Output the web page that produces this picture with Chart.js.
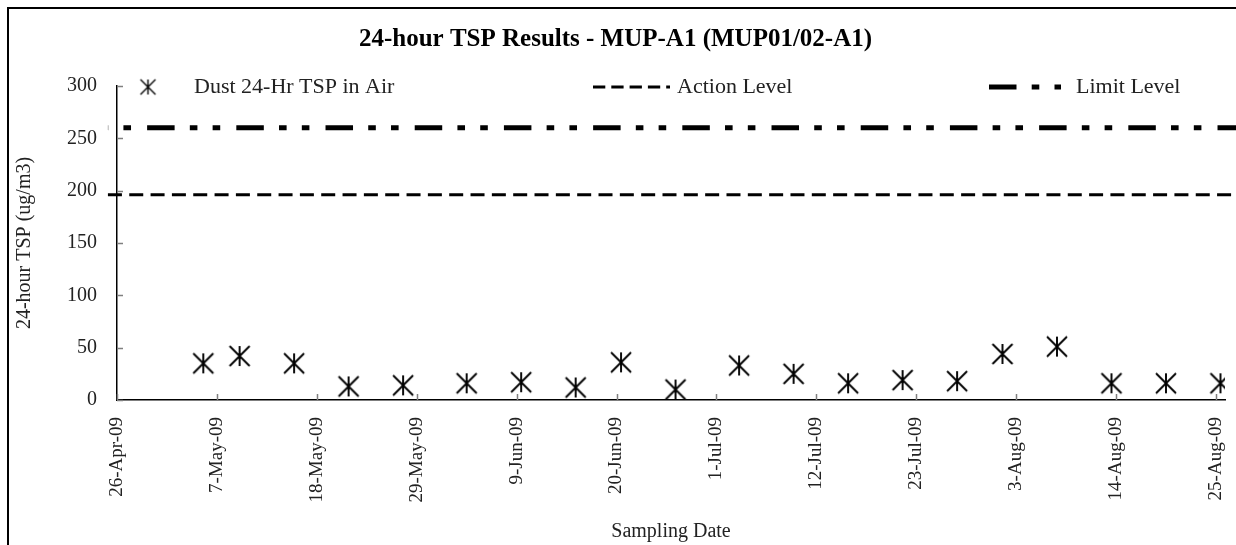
<!DOCTYPE html>
<html>
<head>
<meta charset="utf-8">
<script src="https://cdn.jsdelivr.net/npm/chart.js@4.4.1/dist/chart.umd.min.js"></script>
<style>
  html, body { margin: 0; padding: 0; background: #fff; overflow: hidden; }
  #wrap { position: relative; width: 1236px; height: 545px; }
  #frame { position: absolute; left: 7px; top: 7px; width: 1300px; height: 600px;
           border-left: 2px solid #000; border-top: 2px solid #000; pointer-events: none; }
</style>
</head>
<body>
<div id="wrap">
  <canvas id="chart" width="1236" height="545"></canvas>
  <div id="frame"></div>
</div>
<script>
// 24-hour TSP sampling results
const sampleDates = [
  '2009-05-05', '2009-05-09', '2009-05-15', '2009-05-21', '2009-05-27',
  '2009-06-03', '2009-06-09', '2009-06-15', '2009-06-20', '2009-06-26',
  '2009-07-03', '2009-07-09', '2009-07-15', '2009-07-21', '2009-07-27',
  '2009-08-01', '2009-08-07', '2009-08-13', '2009-08-19', '2009-08-25'
];
const tspValues = [35, 42, 35, 13, 14, 16, 17, 12, 36, 10, 33, 25, 16, 19, 18, 44, 51, 16, 16, 16];

// Action / Limit levels (ug/m3), drawn across the whole period
const levelDates = ['2009-04-25', '2009-08-28'];
const actionLevel = [196, 196];
const limitLevel = [260, 260];

// Axis ticks
const tickDates = [
  '2009-04-26', '2009-05-07', '2009-05-18', '2009-05-29', '2009-06-09', '2009-06-20',
  '2009-07-01', '2009-07-12', '2009-07-23', '2009-08-03', '2009-08-14', '2009-08-25'
];
const xRange = ['2009-04-26', '2009-08-26'];
const yTicks = [0, 50, 100, 150, 200, 250, 300];

const MONTHS = ['Jan','Feb','Mar','Apr','May','Jun','Jul','Aug','Sep','Oct','Nov','Dec'];
function dayNum(s) {
  const [y, m, d] = s.split('-').map(Number);
  return Date.UTC(y, m - 1, d) / 86400000;
}
function fmtDay(n) {
  const dt = new Date(Math.round(n) * 86400000);
  return dt.getUTCDate() + '-' + MONTHS[dt.getUTCMonth()] + '-' + String(dt.getUTCFullYear()).slice(2);
}

// Asterisk marker: an X with a vertical stroke through it
function asterisk(size, lw) {
  const pad = Math.ceil(lw);
  const c = document.createElement('canvas');
  c.width = c.height = size + 2 * pad;
  const g = c.getContext('2d');
  const a = pad, b = pad + size, m = c.width / 2;
  g.strokeStyle = '#000';
  g.lineWidth = lw;
  g.beginPath();
  g.moveTo(a, a); g.lineTo(b, b);
  g.moveTo(b, a); g.lineTo(a, b);
  g.moveTo(m, a); g.lineTo(m, b);
  g.stroke();
  return c;
}
const markerPlot = asterisk(20, 1.9);
const markerLegend = asterisk(15, 1.4);

const FONT = 'Liberation Serif, "Times New Roman", serif';
Chart.defaults.font.family = FONT;
Chart.defaults.color = '#222';

// Legend row drawn inside the plot, along its top edge
const legendRow = {
  y: 87,
  items: [
    { mark: 148, text: 194 },
    { from: 593, to: 670, text: 677 },
    { from: 989, to: 1061, text: 1076 }
  ]
};
const inlineLegend = {
  id: 'inlineLegend',
  afterDraw(chart) {
    const ctx = chart.ctx;
    ctx.save();
    ctx.font = '22px ' + FONT;
    ctx.fillStyle = '#222';
    ctx.textBaseline = 'middle';
    ctx.textAlign = 'left';
    chart.data.datasets.forEach((ds, i) => {
      const it = legendRow.items[i];
      if (it.mark !== undefined) {
        const img = markerLegend;
        ctx.drawImage(img, it.mark - img.width / 2, legendRow.y - img.height / 2);
      } else {
        ctx.save();
        ctx.strokeStyle = ds.borderColor;
        ctx.lineWidth = ds.legendLineWidth;
        ctx.setLineDash(ds.legendDash);
        ctx.lineCap = 'butt';
        ctx.beginPath();
        ctx.moveTo(it.from, legendRow.y);
        ctx.lineTo(it.to, legendRow.y);
        ctx.stroke();
        ctx.restore();
      }
      ctx.fillText(ds.label, it.text, legendRow.y);
    });
    ctx.restore();
  }
};

// Short tick marks pointing into the plot
const innerTicks = {
  id: 'innerTicks',
  beforeDatasetsDraw(chart) {
    const { ctx, scales: { x, y }, chartArea: a } = chart;
    ctx.save();
    ctx.strokeStyle = '#808080';
    ctx.lineWidth = 1.5;
    ctx.beginPath();
    x.ticks.forEach(t => {
      const px = Math.round(x.getPixelForValue(t.value)) + 0.5;
      ctx.moveTo(px, a.bottom);
      ctx.lineTo(px, a.bottom - 6);
    });
    y.ticks.forEach(t => {
      const py = Math.round(y.getPixelForValue(t.value)) + 0.5;
      ctx.moveTo(a.left, py);
      ctx.lineTo(a.left + 6, py);
    });
    ctx.stroke();
    ctx.restore();
  }
};

new Chart(document.getElementById('chart'), {
  type: 'scatter',
  data: {
    datasets: [
      {
        label: 'Dust 24-Hr TSP in Air',
        // each sample sits in the middle of its day slot
        data: sampleDates.map((d, i) => ({ x: dayNum(d) + 0.5, y: tspValues[i] })),
        pointStyle: markerPlot,
        pointRadius: 10,
        pointHoverRadius: 10,
        showLine: false
      },
      {
        label: 'Action Level',
        data: levelDates.map((d, i) => ({ x: dayNum(d), y: actionLevel[i] })),
        showLine: true,
        pointRadius: 0,
        borderColor: '#000',
        borderWidth: 3,
        borderDash: [14, 7.33],
        borderCapStyle: 'butt',
        legendDash: [12.3, 6],
        legendLineWidth: 3,
        clip: false
      },
      {
        label: 'Limit Level',
        data: levelDates.map((d, i) => ({ x: dayNum(d), y: limitLevel[i] })),
        showLine: true,
        pointRadius: 0,
        borderColor: '#000',
        borderWidth: 5,
        borderDash: [27.5, 15.2, 7.6, 15.2, 7.6, 16.1],
        borderDashOffset: 50,
        borderCapStyle: 'butt',
        legendDash: [27.5, 15.2, 7.6, 15.2, 7.6, 16.1],
        legendLineWidth: 5,
        clip: false
      }
    ]
  },
  options: {
    responsive: false,
    animation: false,
    devicePixelRatio: 1,
    layout: { padding: { left: 0, right: 5, top: 0, bottom: 0 } },
    plugins: {
      legend: { display: false },
      tooltip: { enabled: false },
      title: {
        display: true,
        text: '24-hour TSP Results - MUP-A1 (MUP01/02-A1)',
        color: '#000',
        font: { family: FONT, size: 25, weight: 'bold' },
        padding: { top: 25, bottom: 31 }
      }
    },
    scales: {
      x: {
        type: 'linear',
        min: dayNum(xRange[0]),
        max: dayNum(xRange[1]),
        afterBuildTicks(s) { s.ticks = tickDates.map(d => ({ value: dayNum(d) })); },
        afterFit(s) { s.height = 145; s.paddingLeft = 0; s.paddingRight = 0; },
        ticks: {
          autoSkip: false,
          minRotation: 90,
          maxRotation: 90,
          padding: 17,
          color: '#222',
          font: { size: 19 },
          callback: v => fmtDay(v)
        },
        grid: { display: false, drawTicks: false },
        border: { display: true, color: '#000', width: 1.5 },
        title: {
          display: true,
          text: 'Sampling Date',
          color: '#222',
          font: { size: 20 },
          padding: { top: 0, bottom: 1 }
        }
      },
      y: {
        min: 0,
        max: 300,
        afterBuildTicks(s) { s.ticks = yTicks.map(v => ({ value: v })); },
        afterFit(s) { s.width = 117; s.paddingTop = 0; s.paddingBottom = 0; },
        ticks: { padding: 20, color: '#222', font: { size: 20 } },
        grid: { display: false, drawTicks: false },
        border: { display: true, color: '#000', width: 1.5 },
        title: {
          display: true,
          text: '24-hour TSP (ug/m3)',
          color: '#222',
          font: { size: 20 },
          padding: { top: 13, bottom: 0 }
        }
      }
    }
  },
  plugins: [innerTicks, inlineLegend]
});
</script>
</body>
</html>
